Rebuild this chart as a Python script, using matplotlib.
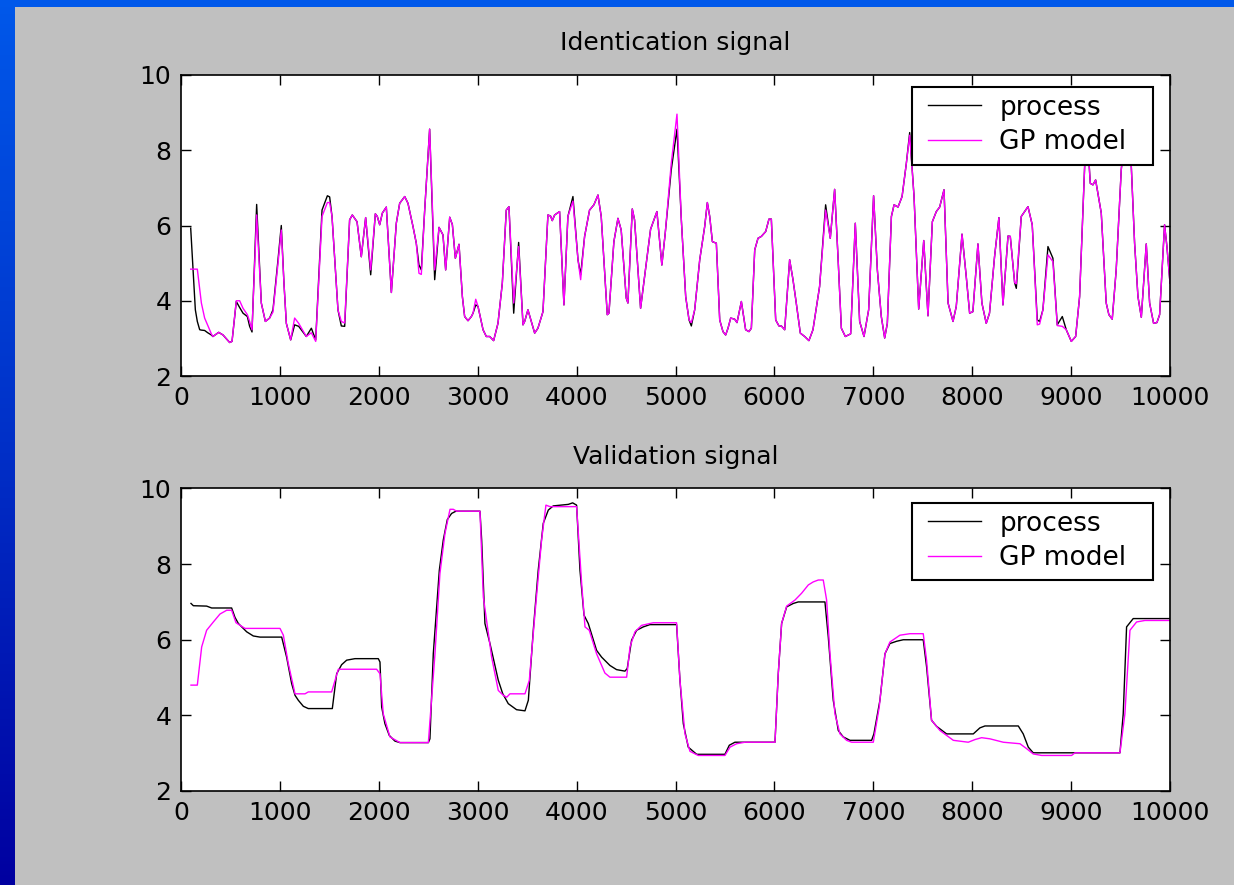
import numpy as np
import matplotlib
matplotlib.use("Agg")
import matplotlib.pyplot as plt
from matplotlib.colors import LinearSegmentedColormap
from matplotlib.patches import Rectangle

# ---------------- data ----------------
ident_x = [98, 145, 165, 189, 206, 239, 270, 307, 323, 381, 425, 492, 516, 559, 593, 627, 671, 694, 718,
           765, 812, 853, 896, 930, 981, 1014, 1041, 1065, 1109, 1149, 1190, 1267, 1318, 1362, 1426, 1480,
           1503, 1527, 1587, 1621, 1655, 1705, 1732, 1780, 1823, 1867, 1918, 1965, 1985, 2009, 2036, 2076,
           2127, 2177, 2211, 2262, 2295, 2346, 2379, 2406, 2430, 2464, 2514, 2565, 2609, 2649, 2676, 2717,
           2744, 2774, 2811, 2845, 2868, 2902, 2936, 2953, 2980, 3003, 3054, 3087, 3121, 3161, 3205, 3249,
           3289, 3316, 3364, 3414, 3458, 3475, 3508, 3576, 3609, 3660, 3710, 3737, 3754, 3778, 3828, 3872,
           3912, 3963, 4014, 4041, 4081, 4131, 4175, 4216, 4249, 4310, 4327, 4377, 4418, 4451, 4502, 4519,
           4563, 4586, 4647, 4687, 4748, 4812, 4862, 4896, 4957, 5015, 5059, 5103, 5137, 5160, 5194, 5245,
           5295, 5322, 5346, 5373, 5413, 5447, 5480, 5507, 5531, 5558, 5598, 5622, 5666, 5709, 5743, 5767,
           5801, 5834, 5868, 5912, 5945, 5969, 6013, 6046, 6070, 6104, 6154, 6188, 6221, 6262, 6306, 6349,
           6390, 6457, 6518, 6565, 6609, 6643, 6677, 6717, 6771, 6818, 6862, 6906, 6953, 7003, 7041, 7081,
           7115, 7142, 7183, 7210, 7250, 7291, 7334, 7368, 7412, 7459, 7510, 7553, 7597, 7637, 7671, 7715,
           7756, 7806, 7839, 7897, 7940, 7974, 8007, 8058, 8098, 8142, 8175, 8226, 8270, 8311, 8362, 8385,
           8429, 8446, 8496, 8530, 8564, 8607, 8658, 8682, 8715, 8766, 8816, 8860, 8911, 8951, 9002, 9046,
           9086, 9137, 9164, 9194, 9221, 9248, 9305, 9355, 9382, 9416, 9456, 9507, 9560, 9608, 9642, 9676,
           9710, 9760, 9794, 9834, 9868, 9895, 9945, 9969, 10000]
ident_process = [5.93, 3.76, 3.45, 3.23, 3.22, 3.21, 3.15, 3.09, 3.05, 3.16, 3.09, 2.89, 2.92, 3.98, 3.82, 3.67, 3.58, 3.32, 3.17,
                 6.56, 3.94, 3.45, 3.54, 3.76, 5.09, 6.00, 4.47, 3.40, 2.96, 3.36, 3.32, 3.05, 3.27, 2.96, 6.41, 6.79,
                 6.76, 6.24, 3.76, 3.33, 3.32, 6.15, 6.28, 6.10, 5.17, 6.21, 4.69, 6.31, 6.24, 6.02, 6.33, 6.49,
                 4.22, 6.06, 6.59, 6.77, 6.59, 5.97, 5.53, 4.95, 4.82, 6.41, 8.56, 4.56, 5.95, 5.75, 4.82, 6.22,
                 6.02, 5.13, 5.50, 4.11, 3.58, 3.47, 3.58, 3.67, 3.89, 3.85, 3.23, 3.05, 3.05, 2.94, 3.40, 4.47,
                 6.41, 6.50, 3.67, 5.55, 3.36, 3.45, 3.76, 3.14, 3.27, 3.71, 6.28, 6.25, 6.13, 6.28, 6.37, 3.89,
                 6.24, 6.77, 5.09, 4.69, 5.71, 6.41, 6.55, 6.81, 6.24, 3.63, 3.67, 5.57, 6.19, 5.88, 4.07, 3.94,
                 6.44, 6.15, 3.80, 4.64, 5.90, 6.37, 4.95, 5.79, 7.48, 8.56, 6.15, 4.11, 3.49, 3.33, 3.76, 5.09,
                 5.97, 6.61, 6.24, 5.57, 5.53, 3.49, 3.18, 3.09, 3.27, 3.54, 3.51, 3.42, 3.98, 3.23, 3.18, 3.27,
                 5.35, 5.66, 5.71, 5.84, 6.17, 6.17, 3.49, 3.33, 3.33, 3.23, 5.09, 4.56, 3.94, 3.14, 3.05, 2.94,
                 3.23, 4.38, 6.55, 5.66, 6.96, 5.17, 3.27, 3.05, 3.12, 6.06, 3.45, 3.05, 3.76, 6.79, 4.82, 3.58,
                 3.01, 3.40, 6.24, 6.55, 6.49, 6.77, 7.65, 8.47, 6.77, 3.78, 5.60, 3.60, 6.10, 6.37, 6.49, 6.95,
                 3.94, 3.45, 3.85, 5.77, 4.64, 3.67, 3.71, 5.51, 3.94, 3.40, 3.67, 5.17, 6.21, 3.89, 5.72, 5.71,
                 4.48, 4.33, 6.24, 6.37, 6.50, 6.02, 3.49, 3.45, 3.76, 5.44, 5.13, 3.36, 3.58, 3.23, 2.92, 3.05,
                 4.11, 7.57, 8.40, 7.12, 7.08, 7.21, 6.33, 3.94, 3.63, 3.51, 4.82, 7.48, 8.80, 7.61, 5.53, 4.11,
                 3.56, 5.51, 3.94, 3.40, 3.42, 3.63, 6.02, 5.44, 4.47]
ident_model = [4.84, 4.84, 4.84, 4.30, 3.94, 3.54, 3.35, 3.12, 3.05, 3.16, 3.09, 2.89, 2.92, 4.00, 4.00, 3.80, 3.63, 3.45, 3.23,
               6.28, 3.94, 3.45, 3.54, 3.70, 5.00, 5.88, 4.47, 3.40, 2.96, 3.54, 3.40, 3.05, 3.15, 2.92, 6.24, 6.61,
               6.61, 6.24, 3.76, 3.45, 3.41, 6.15, 6.28, 6.10, 5.17, 6.21, 4.82, 6.31, 6.24, 6.02, 6.33, 6.49,
               4.22, 6.06, 6.59, 6.77, 6.59, 5.97, 5.53, 4.73, 4.70, 6.41, 8.56, 4.82, 5.95, 5.75, 4.82, 6.22,
               6.02, 5.13, 5.50, 4.11, 3.58, 3.47, 3.58, 3.67, 4.04, 3.85, 3.23, 3.05, 3.05, 2.94, 3.40, 4.47,
               6.41, 6.50, 3.94, 5.44, 3.36, 3.45, 3.76, 3.14, 3.27, 3.71, 6.28, 6.25, 6.13, 6.28, 6.37, 3.89,
               6.24, 6.65, 5.09, 4.56, 5.71, 6.41, 6.55, 6.81, 6.24, 3.63, 3.67, 5.57, 6.19, 5.88, 4.07, 3.94,
               6.44, 6.15, 3.80, 4.64, 5.90, 6.37, 4.95, 5.79, 7.65, 8.96, 6.15, 4.11, 3.49, 3.42, 3.76, 5.09,
               5.97, 6.61, 6.24, 5.57, 5.53, 3.49, 3.18, 3.09, 3.27, 3.54, 3.51, 3.42, 3.98, 3.23, 3.18, 3.27,
               5.35, 5.66, 5.71, 5.84, 6.17, 6.17, 3.49, 3.33, 3.33, 3.23, 5.09, 4.56, 3.94, 3.14, 3.05, 2.94,
               3.23, 4.38, 6.41, 5.66, 6.96, 5.17, 3.27, 3.05, 3.12, 6.06, 3.45, 3.05, 3.76, 6.79, 4.82, 3.58,
               3.01, 3.40, 6.24, 6.55, 6.49, 6.77, 7.65, 8.40, 6.77, 3.78, 5.60, 3.60, 6.10, 6.37, 6.49, 6.95,
               3.94, 3.45, 3.85, 5.77, 4.64, 3.67, 3.71, 5.51, 3.94, 3.40, 3.67, 5.17, 6.21, 3.89, 5.72, 5.71,
               4.48, 4.45, 6.24, 6.37, 6.50, 6.02, 3.36, 3.38, 3.76, 5.22, 5.04, 3.34, 3.32, 3.23, 2.92, 3.05,
               4.11, 7.57, 8.40, 7.12, 7.08, 7.21, 6.33, 3.94, 3.63, 3.51, 4.82, 7.48, 8.80, 7.61, 5.53, 4.11,
               3.56, 5.51, 3.94, 3.40, 3.42, 3.63, 6.02, 5.44, 4.47]

valid_process_x = [101, 125, 259, 310, 512, 546, 580, 664, 731, 799, 1018, 1068, 1119, 1153, 1186, 1237, 1287,
                   1530, 1574, 1624, 1675, 1759, 1995, 2012, 2029, 2062, 2106, 2163, 2214, 2501, 2517, 2551,
                   2612, 2652, 2693, 2736, 2780, 3023, 3040, 3073, 3124, 3208, 3252, 3309, 3393, 3478, 3512,
                   3562, 3612, 3663, 3714, 3764, 3916, 3960, 4000, 4034, 4075, 4118, 4202, 4253, 4337, 4404,
                   4489, 4512, 4556, 4607, 4674, 4741, 5011, 5045, 5079, 5129, 5214, 5500, 5544, 5601, 6006,
                   6039, 6073, 6124, 6191, 6241, 6511, 6545, 6595, 6646, 6696, 6764, 6983, 7006, 7067, 7118,
                   7168, 7236, 7303, 7505, 7539, 7589, 7640, 7741, 8011, 8078, 8129, 8466, 8516, 8567, 8617,
                   9494, 9527, 9561, 9628, 10000]
valid_process_y = [6.96, 6.90, 6.89, 6.84, 6.84, 6.59, 6.43, 6.21, 6.10, 6.07, 6.07, 5.54, 4.84, 4.53, 4.40, 4.24, 4.18,
                   4.18, 5.10, 5.34, 5.46, 5.50, 5.50, 5.41, 4.22, 3.78, 3.47, 3.32, 3.28, 3.28, 3.38, 5.63,
                   7.84, 8.64, 9.18, 9.34, 9.40, 9.40, 8.64, 6.43, 5.90, 4.93, 4.58, 4.31, 4.15, 4.12, 4.40,
                   6.25, 7.84, 9.08, 9.43, 9.54, 9.58, 9.62, 9.56, 7.84, 6.65, 6.43, 5.72, 5.54, 5.32, 5.21,
                   5.17, 5.24, 5.99, 6.25, 6.34, 6.40, 6.40, 4.93, 3.78, 3.16, 2.97, 2.97, 3.21, 3.29, 3.29,
                   5.10, 6.43, 6.87, 6.96, 7.00, 7.00, 6.07, 4.40, 3.60, 3.43, 3.34, 3.34, 3.51, 4.40, 5.63,
                   5.90, 5.96, 6.00, 6.00, 5.28, 3.87, 3.71, 3.51, 3.51, 3.67, 3.72, 3.72, 3.51, 3.16, 3.01,
                   3.01, 4.04, 6.34, 6.56, 6.56]

valid_model_x = [101, 165, 209, 259, 327, 394, 462, 512, 556, 647, 1001, 1035, 1085, 1153, 1254, 1287, 1523,
                 1591, 1978, 2012, 2045, 2113, 2214, 2501, 2568, 2618, 2669, 2720, 2753, 2787, 3023, 3057,
                 3141, 3208, 3259, 3293, 3326, 3478, 3522, 3579, 3646, 3690, 3731, 4000, 4051, 4085, 4128,
                 4202, 4286, 4337, 4506, 4540, 4590, 4657, 4775, 5011, 5045, 5096, 5146, 5230, 5500, 5551,
                 5618, 5702, 6006, 6039, 6073, 6124, 6208, 6275, 6343, 6393, 6444, 6494, 6528, 6562, 6612,
                 6663, 6730, 6781, 7000, 7060, 7118, 7168, 7269, 7370, 7505, 7539, 7589, 7674, 7809, 7960,
                 8028, 8095, 8179, 8314, 8483, 8550, 8617, 8702, 9005, 9039, 9494, 9544, 9595, 9662, 9746,
                 10000]
valid_model_y = [4.80, 4.80, 5.81, 6.25, 6.47, 6.68, 6.78, 6.78, 6.45, 6.30, 6.30, 6.12, 5.37, 4.57, 4.57, 4.62, 4.62,
                 5.22, 5.22, 5.10, 4.04, 3.43, 3.28, 3.28, 5.63, 7.75, 8.81, 9.45, 9.45, 9.40, 9.40, 7.13,
                 5.54, 4.66, 4.53, 4.48, 4.57, 4.57, 4.93, 6.69, 8.64, 9.56, 9.52, 9.52, 7.49, 6.34, 6.25,
                 5.63, 5.12, 5.01, 5.01, 5.81, 6.21, 6.38, 6.45, 6.45, 4.93, 3.51, 3.05, 2.94, 2.94, 3.16,
                 3.25, 3.29, 3.29, 5.10, 6.43, 6.89, 7.05, 7.23, 7.45, 7.53, 7.58, 7.58, 7.05, 5.63, 4.04,
                 3.51, 3.34, 3.29, 3.29, 4.22, 5.63, 5.94, 6.12, 6.16, 6.16, 5.45, 3.87, 3.60, 3.34, 3.29,
                 3.36, 3.41, 3.38, 3.29, 3.25, 3.12, 2.98, 2.94, 2.94, 3.01, 3.01, 4.04, 6.25, 6.47, 6.51,
                 6.51]

titles = ["Identication signal", "Validation signal"]
legend_labels = ["process", "GP model"]
x_ticks = list(range(0, 10001, 1000))
y_ticks = [2, 4, 6, 8, 10]

# ---------------- figure ----------------
W, H = 1234, 885
plt.rcParams["font.family"] = ["DejaVu Sans"]
fig = plt.figure(figsize=(W / 100, H / 100), dpi=100, facecolor="#c0c0c0")

# blue slide border
bax = fig.add_axes([0, 0, 15 / W, 1])
cmap = LinearSegmentedColormap.from_list("bl", ["#0058ea", "#0030c8", "#0000a0"])
bax.imshow(np.linspace(0, 1, 256).reshape(-1, 1), aspect="auto", cmap=cmap)
bax.axis("off")
fig.patches.append(Rectangle((0, 1 - 7 / H), 1, 7 / H, transform=fig.transFigure,
                             facecolor="#0058ea", edgecolor="none", zorder=0))

FS = 18
LFS = 19
AX_L, AX_R = 181, 1170
axes_px = [(75, 376), (488.5, 791)]          # top / bottom pixel rows of each axes
legend_px = [(86.7, 165), (502.7, 580)]      # legend box top / bottom pixel rows
title_y = [43, 457]
series = [(ident_x, ident_process, ident_x, ident_model),
          (valid_process_x, valid_process_y, valid_model_x, valid_model_y)]

for (atop, abot), (ltop, lbot), ty, title, (px, py, mx, my) in zip(
        axes_px, legend_px, title_y, titles, series):
    ax = fig.add_axes([AX_L / W, 1 - abot / H, (AX_R - AX_L) / W, (abot - atop) / H])
    ax.set_facecolor("white")
    l1, = ax.plot(px, py, color="black", lw=1.0)
    l2, = ax.plot(mx, my, color="#ff00ff", lw=1.0)
    ax.set_xlim(0, 10000)
    ax.set_ylim(2, 10)
    ax.set_xticks(x_ticks)
    ax.set_yticks(y_ticks)
    ax.tick_params(direction="in", length=7, width=1, top=True, right=True,
                   labelsize=FS, pad=7, colors="black")
    for s in ax.spines.values():
        s.set_linewidth(1.2)

    ah = abot - atop
    aw = AX_R - AX_L
    # legend frame
    fx0 = (911.7 - AX_L) / aw
    fx1 = (1153.3 - AX_L) / aw
    fy1 = 1 - (ltop - atop) / ah
    fy0 = 1 - (lbot - atop) / ah
    ax.add_patch(Rectangle((fx0, fy0), fx1 - fx0, fy1 - fy0, transform=ax.transAxes,
                           facecolor="white", edgecolor="black", lw=1.5, zorder=5))
    # legend content
    leg = ax.legend([l1, l2], legend_labels, loc="upper left",
                    bbox_to_anchor=((928 - AX_L) / aw, 1 - (ltop + 8 - atop) / ah),
                    borderaxespad=0, borderpad=0, frameon=False, fontsize=LFS,
                    handlelength=2.0, handletextpad=0.7, labelspacing=0.33)
    leg.set_zorder(6)
    fig.text((AX_L + AX_R) / 2 / W, 1 - ty / H, title, ha="center", va="center", fontsize=FS)

fig.savefig("out.png", dpi=100, facecolor=fig.get_facecolor())
